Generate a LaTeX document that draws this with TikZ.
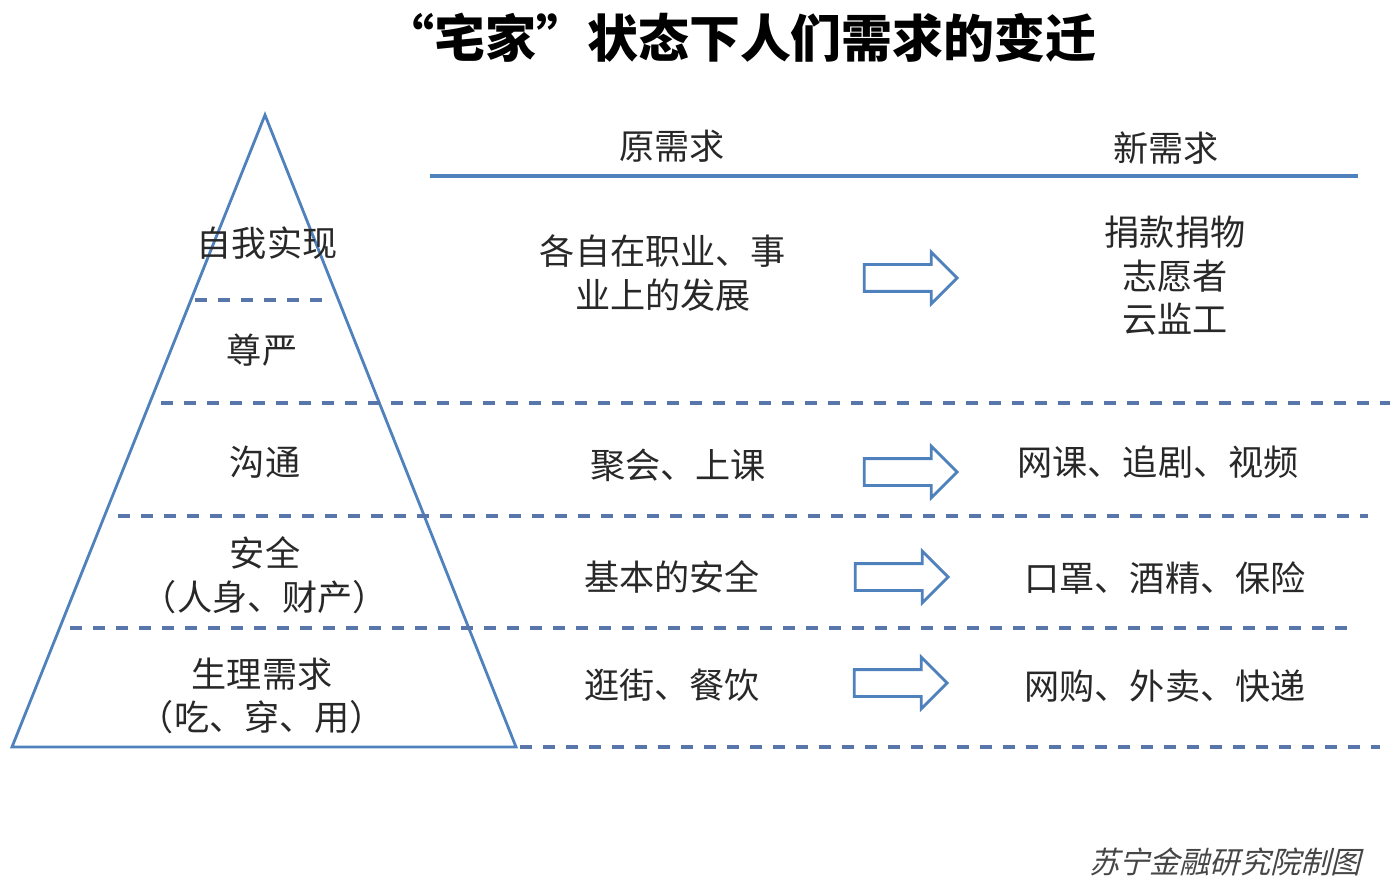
\documentclass[tikz,border=0pt]{standalone}
\usepackage{fontspec}
\setmainfont{Noto Sans CJK SC}
\newfontfamily\slantfont[FakeSlant=0.25]{Noto Sans CJK SC}
\usetikzlibrary{shapes.arrows}
\definecolor{lineblue}{RGB}{79,129,189}
\definecolor{dashblue}{RGB}{88,118,170}
\definecolor{txtgray}{RGB}{40,40,40}
\begin{document}
\begin{tikzpicture}[x=0.1mm,y=-0.1mm,
lbl/.style={align=center,text=txtgray,font=\fontsize{10}{12.4}\selectfont,inner sep=0pt},
sep/.style={dashblue,line width=1pt,dash pattern=on 0.12cm off 0.11cm},
blockarrow/.style={single arrow,draw=lineblue,line width=0.8pt,fill=white,inner sep=0.12cm,single arrow head extend=0.125cm,minimum height=0.93cm}]
\useasboundingbox (0,0) rectangle (1399,886);
\node[font=\fontsize{14.5}{16}\selectfont\bfseries] (title) at (740,38) {“宅家”状态下人们需求的变迁};
\draw[lineblue,line width=0.8pt](265,115)--(12,747)--(516,747)--cycle;
\draw[lineblue,line width=1.1pt](430,176)--(1358,176);
\draw[sep](195,300)--(332,300);
\draw[sep](161,403)--(1390,403);
\draw[sep](118,516)--(1368,516);
\draw[sep](70,628)--(1348,628);
\draw[sep](520,747)--(1380,747);
\node[lbl] (oldhead) at (672,146){原需求};
\node[lbl] (newhead) at (1166,148){新需求};
\node[lbl] (self) at (267,243){自我实现};
\node[lbl] (dignity) at (262,350){尊严};
\node[lbl] (talk) at (265,462){沟通};
\node[lbl] (safe) at (265,575){安全\\（人身、财产）};
\node[lbl] (body) at (262,696){生理需求\\（吃、穿、用）};
\node[lbl] (old1) at (663,273){各自在职业、事\\业上的发展};
\node[lbl] (old2) at (678,465){聚会、上课};
\node[lbl] (old3) at (672,577){基本的安全};
\node[lbl] (old4) at (672,685){逛街、餐饮};
\node[blockarrow] (ar1) at (904,278){};
\node[blockarrow] (ar2) at (904,472){};
\node[blockarrow] (ar3) at (895,577){};
\node[blockarrow] (ar4) at (894,683){};
\node[lbl] (new1) at (1175,276){捐款捐物\\志愿者\\云监工};
\node[lbl] (new2) at (1158,462){网课、追剧、视频};
\node[lbl] (new3) at (1165,578){口罩、酒精、保险};
\node[lbl] (new4) at (1165,686){网购、外卖、快递};
\node[text={rgb,255:red,70;green,70;blue,70},font=\slantfont\fontsize{8.6}{10}\selectfont] (credit) at (1225,862){苏宁金融研究院制图};
\end{tikzpicture}
\end{document}
